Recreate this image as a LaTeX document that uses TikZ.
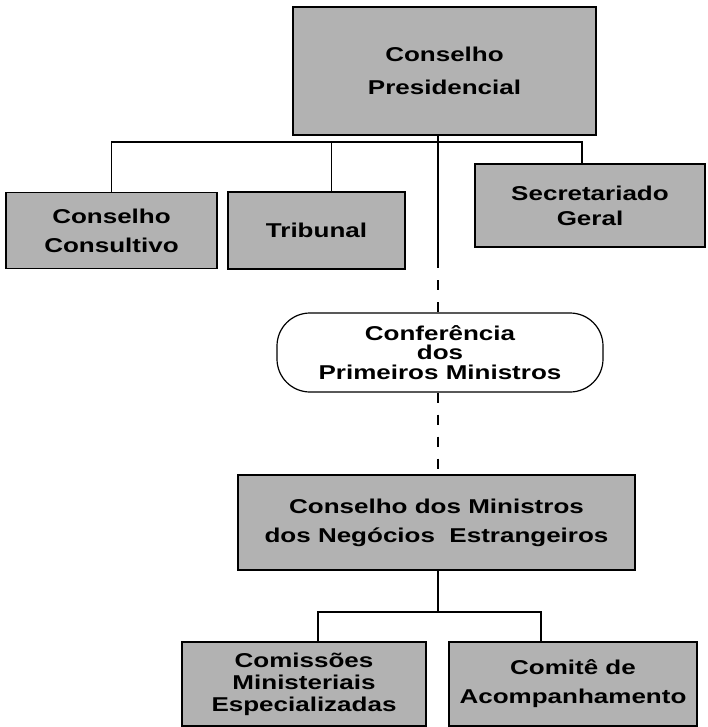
\documentclass[tikz,border=0pt]{standalone}
\usepackage{fontspec}
\usepackage{xcolor}
\usepackage{tikz}
\newfontfamily\chartfont{Liberation Sans}[FakeStretch=1.3]

\begin{document}
\begin{tikzpicture}[
    x=1pt, y=-1pt,
    unit/.style={rectangle, draw, line width=1.4pt, fill=gray!60, inner sep=0pt, align=center, font=\chartfont\bfseries\fontsize{20}{29}\selectfont},
    meeting/.style={rectangle, draw, line width=1.2pt, fill=white, rounded corners=33pt, inner sep=0pt, align=center, font=\chartfont\bfseries\fontsize{20}{19.5}\selectfont},
    link/.style={line width=1.2pt},
    dashlink/.style={line width=1.2pt, dash pattern=on 10pt off 12pt}
]
\useasboundingbox (0,0) rectangle (707,727);

% Presidency
\node[unit, minimum width=303pt, minimum height=128pt, font=\chartfont\bfseries\fontsize{20}{33}\selectfont] (pres) at (444.5,71) {Conselho\\Presidencial};

% Bodies attached to the presidency
\node[unit, minimum width=211pt, minimum height=76pt] (consult) at (111.5,230.5) {Conselho\\Consultivo};
\node[unit, minimum width=177pt, minimum height=77pt] (tribunal) at (316.5,230.5) {Tribunal};
\node[unit, minimum width=230pt, minimum height=83pt, font=\chartfont\bfseries\fontsize{20}{25}\selectfont] (secret) at (590,205.5) {Secretariado\\Geral};

% Prime ministers
\node[meeting, minimum width=326pt, minimum height=79pt] (conf) at (440,352.5) {Conferência\\dos\\Primeiros Ministros};

% Foreign ministers
\node[unit, minimum width=397pt, minimum height=95pt] (mne) at (436.5,522.5) {Conselho dos Ministros\\dos Negócios\ \ Estrangeiros};

% Subordinate bodies
\node[unit, minimum width=244pt, minimum height=84pt, font=\chartfont\bfseries\fontsize{20}{22}\selectfont] (comiss) at (304,684) {Comissões\\Ministeriais\\Especializadas};
\node[unit, minimum width=248pt, minimum height=84pt] (comite) at (573,684) {Comitê de\\Acompanhamento};

% Connectors
\coordinate (topbus) at (0,142);
\coordinate (spine) at (438,258);
\coordinate (lowbus) at (438,612);

\draw[link] (pres.south -| spine) -- (spine);
\draw[dashlink] (spine) -- (conf.north -| spine);
\draw[dashlink] (conf.south -| spine) -- (mne.north -| spine);
\draw[link] (consult.north) |- ([xshift=-8pt]topbus -| secret.north) -- ([xshift=-8pt]secret.north);
\draw[link] ([xshift=15pt]tribunal.north) -- ([xshift=15pt]tribunal.north |- topbus);
\draw[link] (mne.south -| lowbus) -- (lowbus);
\draw[link] ([xshift=14pt]comiss.north) |- ([xshift=-32pt]comite.north |- lowbus) -- ([xshift=-32pt]comite.north);

\end{tikzpicture}
\end{document}
